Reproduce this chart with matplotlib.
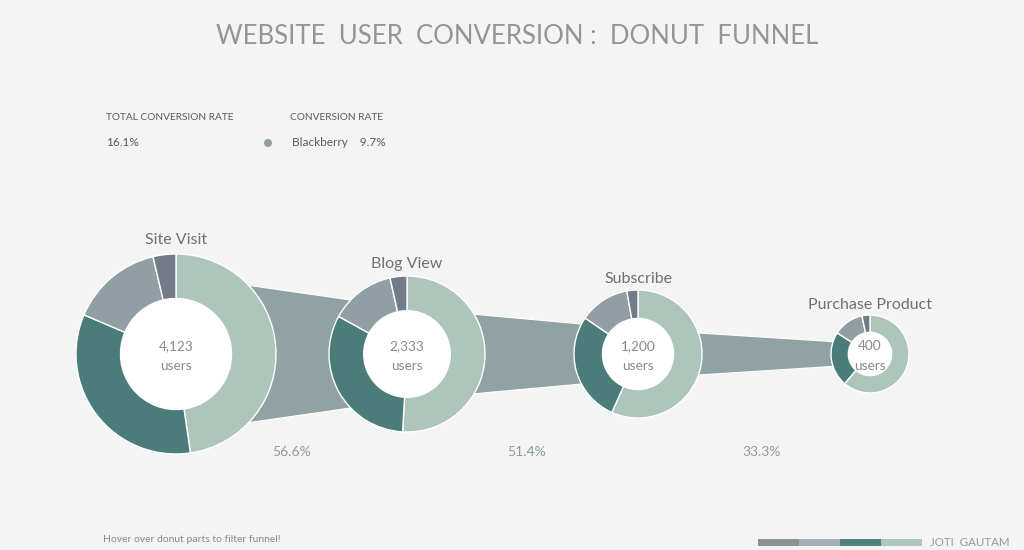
import matplotlib.pyplot as plt
from matplotlib.patches import Polygon, Circle, Rectangle

# data
stages = ["Site Visit", "Blog View", "Subscribe", "Purchase Product"]
users = [4123, 2333, 1200, 400]
# segment shares (%) per stage, clockwise from 12 o'clock
share_site = [47.7, 33.7, 14.9, 3.7]
share_blog = [50.9, 32.1, 13.5, 3.5]
share_subscribe = [56.7, 27.8, 12.7, 2.8]
share_purchase = [61.3, 22.8, 12.6, 3.3]
shares = [share_site, share_blog, share_subscribe, share_purchase]
total_rate = "16.1%"
legend_name = "Blackberry"
legend_rate = "9.7%"

# layout (pixels)
W, H = 1024, 550
centers_x = [176, 407, 638, 870]
center_y = H - 354
radii = [100, 78, 64, 39]
hole = 0.555
band_k, band_c = 0.0371, 5.2  # funnel band height = k*users + c

bg = "#f4f4f4"
seg_colors = ["#aec5bc", "#4a7d7a", "#8f9fa3", "#737b88"]
band_color = "#91a2a5"
font = ["Lato", "DejaVu Sans"]

fig = plt.figure(figsize=(W / 100, H / 100), dpi=100, facecolor=bg)
ax = fig.add_axes([0, 0, 1, 1])
ax.set_facecolor(bg)

# funnel bands
for i in range(len(users) - 1):
    h1 = (band_k * users[i] + band_c) / 2
    h2 = (band_k * users[i + 1] + band_c) / 2
    x1, x2 = centers_x[i], centers_x[i + 1]
    band = Polygon([(x1, center_y + h1), (x2, center_y + h2),
                    (x2, center_y - h2), (x1, center_y - h1)],
                   closed=True, facecolor=band_color, edgecolor="white",
                   linewidth=0.8, zorder=1)
    ax.add_patch(band)
    rate = users[i + 1] / users[i] * 100
    ax.text((x1 + x2) / 2 + 4 * i, H - 452, f"{rate:.1f}%", ha="center", va="center",
            fontsize=10, color="#8d9ca2", family=font)

# donuts
for i, name in enumerate(stages):
    cx, r = centers_x[i], radii[i]
    wedges, _ = ax.pie(shares[i], colors=seg_colors, startangle=90, counterclock=False,
                       center=(cx, center_y), radius=r, frame=True,
                       wedgeprops=dict(width=r * (1 - hole), edgecolor="white", linewidth=1))
    for w in wedges:
        w.set_zorder(3)
    ax.add_patch(Circle((cx, center_y), r * hole, facecolor="white", edgecolor="none", zorder=2))
    ax.text(cx, center_y - 2, f"{users[i]:,}\nusers", ha="center", va="center",
            fontsize=9.8, color="#8a8a8a", linespacing=1.75, family=font, zorder=4)
    ax.text(cx, center_y + r + r * 0.07, name, ha="center", va="bottom",
            fontsize=11.5, color="#707070", family=font, zorder=4)

# title and header texts
ax.text(W / 2 + 5, H - 37, "WEBSITE  USER  CONVERSION :  DONUT  FUNNEL", ha="center",
        va="center", fontsize=18.5, color="#959595", family=font)
ax.text(106, H - 118, "TOTAL CONVERSION RATE", fontsize=7.3, color="#5a5a5a",
        va="center", family=font)
ax.text(106, H - 143, total_rate, fontsize=8.5, color="#5a5a5a", va="center", family=font)
ax.text(290, H - 118, "CONVERSION RATE", fontsize=7.3, color="#5a5a5a", va="center", family=font)
ax.add_patch(Circle((268, H - 143), 4, facecolor=seg_colors[2], edgecolor="none"))
ax.text(292, H - 143, f"{legend_name}    {legend_rate}", fontsize=8.5, color="#5a5a5a",
        va="center", family=font)

ax.text(103, H - 539, "Hover over donut parts to filter funnel!", fontsize=7.5,
        color="#8a8a8a", va="center", family=font)

# signature bar
bar_colors = ["#8c9294", "#a3afb5", "#4f827d", "#afc6be"]
for j, c in enumerate(bar_colors):
    ax.add_patch(Rectangle((758 + j * 41, H - 546), 41, 7, facecolor=c, edgecolor="none"))
ax.text(930, H - 542, "JOTI  GAUTAM", fontsize=8.3, color="#999999", va="center", family=font)

ax.set_xlim(0, W)
ax.set_ylim(0, H)
ax.set_aspect("equal")
ax.axis("off")

fig.savefig("out.png", dpi=100, facecolor=bg)
